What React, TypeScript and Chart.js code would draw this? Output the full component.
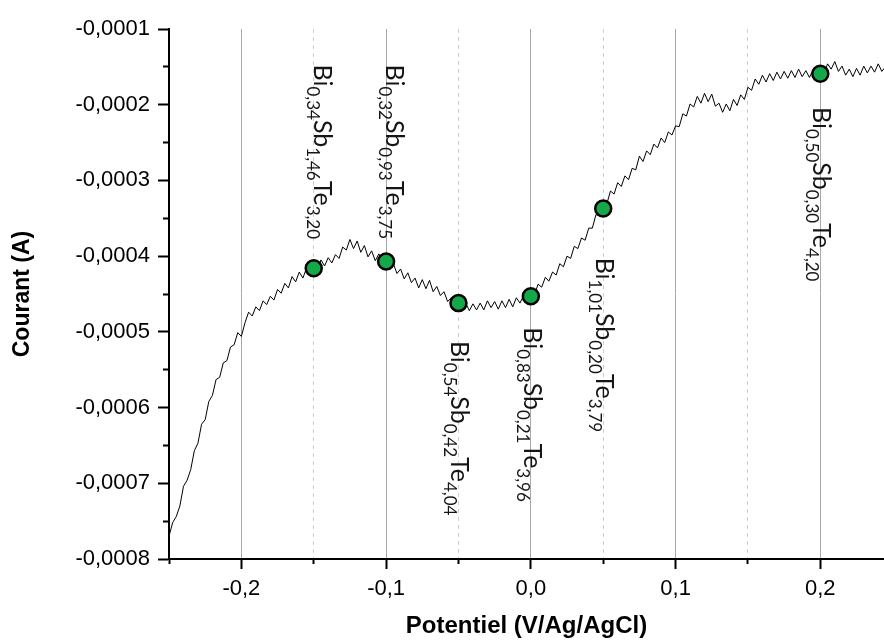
import { useEffect, useRef } from 'react';
import { Chart, registerables } from 'chart.js';

Chart.register(...registerables);

// Linear sweep: potential (V vs Ag/AgCl) sampled every 2.5 mV from -0.25 V
const POTENTIAL_START = -0.25;
const POTENTIAL_STEP = 0.0025;
// Current in microamperes
const CURRENT_uA = [
  -770, -752, -744, -730, -704, -696, -682, -657, -647, -622,
  -616, -592, -584, -563, -560, -541, -538, -520, -517, -501,
  -506, -488, -474, -479, -467, -472, -459, -464, -453, -458,
  -444, -449, -436, -442, -427, -434, -421, -429, -416, -421,
  -414, -419, -405, -413, -402, -409, -398, -403, -388, -392,
  -378, -390, -380, -395, -386, -401, -393, -406, -397, -410,
  -405, -418, -410, -423, -417, -430, -422, -435, -429, -442,
  -431, -443, -432, -447, -440, -452, -447, -460, -455, -466,
  -459, -471, -462, -472, -463, -471, -462, -471, -459, -468,
  -460, -470, -459, -468, -457, -467, -455, -462, -452, -459,
  -449, -451, -437, -441, -428, -433, -421, -425, -410, -414,
  -400, -403, -387, -390, -376, -379, -363, -363, -345, -347,
  -332, -331, -314, -318, -303, -308, -294, -299, -284, -286,
  -268, -275, -261, -266, -252, -257, -244, -250, -236, -240,
  -228, -229, -212, -215, -199, -203, -189, -198, -185, -196,
  -186, -202, -198, -210, -199, -208, -193, -201, -187, -193,
  -177, -181, -166, -173, -161, -170, -159, -168, -157, -166,
  -156, -165, -155, -164, -153, -163, -155, -164, -154, -163,
  -155, -160, -146, -153, -143, -156, -149, -161, -153, -163,
  -152, -161, -149, -158, -149, -157, -146, -156, -150,
];

// Marked compositions
const MARKER_POTENTIAL = [-0.15, -0.1, -0.05, 0.0, 0.05, 0.2];
const MARKER_CURRENT_uA = [-416, -407, -462, -453, -337, -159];
const LABEL_BI = ['0,34', '0,32', '0,54', '0,83', '1,01', '0,50'];
const LABEL_SB = ['1,46', '0,93', '0,42', '0,21', '0,20', '0,30'];
const LABEL_TE = ['3,20', '3,75', '4,04', '3,96', '3,79', '4,20'];
const LABEL_SIDE = ['above', 'above', 'below', 'below', 'below', 'below'];
const LABEL_START_uA = [-147, -147, -512, -494, -402, -203];

// Axes
const X_MIN = -0.25;
const X_MAX = 0.244;
const X_MAJOR_TICKS = [-0.2, -0.1, 0.0, 0.1, 0.2];
const X_TICK_LABELS = ['-0,2', '-0,1', '0,0', '0,1', '0,2'];
const X_MINOR_TICKS = [-0.25, -0.15, -0.05, 0.05, 0.15];
const Y_MIN = -800;
const Y_MAX = -100;
const Y_MAJOR_TICKS = [-800, -700, -600, -500, -400, -300, -200, -100];
const Y_TICK_LABELS = ['-0,0008', '-0,0007', '-0,0006', '-0,0005', '-0,0004', '-0,0003', '-0,0002', '-0,0001'];
const Y_MINOR_TICKS = [-750, -650, -550, -450, -350, -250, -150];

const labelPlugin = {
  id: 'compositionLabels',
  afterDatasetsDraw(chart: any) {
    const { ctx } = chart;
    const xs = chart.scales.x;
    const ys = chart.scales.y;
    const mainFont = '25px Lato';
    const subFont = '17px Lato';
    MARKER_POTENTIAL.forEach((pot, i) => {
      const px = xs.getPixelForValue(pot);
      const py = ys.getPixelForValue(LABEL_START_uA[i]);
      const dx = LABEL_SIDE[i] === 'above' ? 0 : -7;
      const segs = [
        { t: 'Bi', sub: false }, { t: LABEL_BI[i], sub: true },
        { t: 'Sb', sub: false }, { t: LABEL_SB[i], sub: true },
        { t: 'Te', sub: false }, { t: LABEL_TE[i], sub: true },
      ];
      ctx.save();
      ctx.translate(px + dx, py);
      ctx.rotate(Math.PI / 2);
      ctx.fillStyle = '#151515';
      ctx.textBaseline = 'alphabetic';
      ctx.textAlign = 'left';
      let cx = 0;
      segs.forEach((s) => {
        ctx.font = s.sub ? subFont : mainFont;
        ctx.fillText(s.t, cx, s.sub ? 7 : 0);
        cx += ctx.measureText(s.t).width;
      });
      ctx.restore();
    });
  },
};

export default function App() {
  const ref = useRef<HTMLCanvasElement>(null);
  useEffect(() => {
    document.body.style.margin = '0';
    if (!ref.current) return;
    Chart.defaults.font.family = "'Liberation Sans', Arial, sans-serif";
    const lineData = CURRENT_uA.map((c, i) => ({ x: POTENTIAL_START + i * POTENTIAL_STEP, y: c }));
    const markerData = MARKER_POTENTIAL.map((p, i) => ({ x: p, y: MARKER_CURRENT_uA[i] }));
    const chart = new Chart(ref.current, {
      type: 'scatter',
      data: {
        datasets: [
          {
            data: markerData,
            order: 0,
            pointRadius: 8,
            pointBackgroundColor: '#14a84b',
            pointBorderColor: '#000',
            pointBorderWidth: 2.5,
          },
          {
            data: lineData,
            order: 1,
            showLine: true,
            borderColor: '#000',
            borderWidth: 1,
            pointRadius: 0,
          },
        ],
      },
      options: {
        animation: false,
        responsive: false,
        events: [],
        layout: { autoPadding: false, padding: { top: 29, right: 0, bottom: 0, left: 0 } },
        plugins: { legend: { display: false }, tooltip: { enabled: false } },
        scales: {
          x: {
            type: 'linear',
            position: 'bottom',
            weight: 0,
            min: X_MIN,
            max: X_MAX,
            afterBuildTicks: (s: any) => { s.ticks = X_MAJOR_TICKS.map((v) => ({ value: v })); },
            afterFit: (s: any) => { s.height = 82; },
            ticks: {
              callback: (_v: any, i: number) => X_TICK_LABELS[i],
              color: '#000',
              font: { size: 22 },
              padding: 7,
              maxRotation: 0,
            },
            grid: { color: '#a8a8a8', lineWidth: 1, tickColor: '#000', tickWidth: 2, tickLength: 10 },
            border: { color: '#000', width: 2 },
            title: {
              display: true,
              text: 'Potentiel (V/Ag/AgCl)',
              color: '#000',
              font: { size: 24, weight: 'bold' },
              padding: { top: 0, bottom: 0 },
            },
          },
          x2: {
            type: 'linear',
            position: 'bottom',
            weight: -1,
            min: X_MIN,
            max: X_MAX,
            afterBuildTicks: (s: any) => { s.ticks = X_MINOR_TICKS.map((v) => ({ value: v })); },
            afterFit: (s: any) => { s.height = 0; },
            ticks: { display: false },
            grid: { color: '#cfcfcf', lineWidth: 1, tickColor: '#000', tickWidth: 2, tickLength: 5 },
            border: { display: false, dash: [4, 4] },
          },
          y: {
            type: 'linear',
            position: 'left',
            weight: 0,
            min: Y_MIN,
            max: Y_MAX,
            afterBuildTicks: (s: any) => { s.ticks = Y_MAJOR_TICKS.map((v) => ({ value: v })); },
            afterFit: (s: any) => { s.width = 169; },
            ticks: {
              callback: (_v: any, i: number) => Y_TICK_LABELS[i],
              color: '#000',
              font: { size: 22 },
              padding: 8,
            },
            grid: { drawOnChartArea: false, tickColor: '#000', tickWidth: 2, tickLength: 11 },
            border: { color: '#000', width: 2 },
            title: {
              display: true,
              text: 'Courant (A)',
              color: '#000',
              font: { size: 23, weight: 'bold' },
              padding: { top: 9, bottom: 0 },
            },
          },
          y2: {
            type: 'linear',
            position: 'left',
            weight: -1,
            min: Y_MIN,
            max: Y_MAX,
            afterBuildTicks: (s: any) => { s.ticks = Y_MINOR_TICKS.map((v) => ({ value: v })); },
            afterFit: (s: any) => { s.width = 0; },
            ticks: { display: false },
            grid: { drawOnChartArea: false, tickColor: '#000', tickWidth: 2, tickLength: 6 },
            border: { display: false },
          },
        },
      },
      plugins: [labelPlugin],
    } as any);
    return () => chart.destroy();
  }, []);
  return (
    <div style={{ width: 884, height: 641 }}>
      <canvas ref={ref} width={884} height={641} />
    </div>
  );
}
